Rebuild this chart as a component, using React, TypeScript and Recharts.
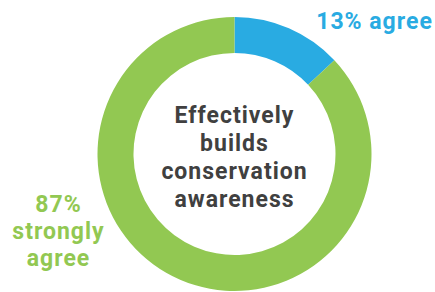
import React from "react";
import { PieChart, Pie, Cell } from "recharts";

const categories = ["agree", "strongly agree"];
const values = [13, 87];
const labelLines = [["13% agree"], ["87%", "strongly", "agree"]];
const centerLines = ["Effectively", "builds", "conservation", "awareness"];
const colors = ["#29ABE2", "#92C852"];

const data = categories.map((c, i) => ({ name: c, value: values[i] }));

const FONT = "Roboto, 'DejaVu Sans', sans-serif";
const TEXT_STYLE = { fontFamily: FONT, fontWeight: 700, fontSize: 23, letterSpacing: 1 };

const renderLabel = (props: any) => {
  const { cx, cy, index } = props;
  const lines = labelLines[index];
  if (index === 0) {
    return (
      <g>
        <text x={cx + 140} y={cy - 125} textAnchor="middle" fill={colors[0]} style={TEXT_STYLE}>
          {lines[0]}
        </text>
        <text x={cx} y={cy - 31} textAnchor="middle" fill="#404040" style={TEXT_STYLE}>
          {centerLines.map((l, i) => (
            <tspan key={i} x={cx} dy={i === 0 ? 0 : 28}>{l}</tspan>
          ))}
        </text>
      </g>
    );
  }
  return (
    <text x={cx - 176} y={cy + 58} textAnchor="middle" fill={colors[1]} style={TEXT_STYLE}>
      {lines.map((l, i) => (
        <tspan key={i} x={cx - 176} dy={i === 0 ? 0 : 27}>{l}</tspan>
      ))}
    </text>
  );
};

export default function App() {
  return (
    <div style={{ position: "absolute", left: 0, top: 0, width: 435, height: 292, background: "#fff" }}>
      <PieChart width={435} height={292} margin={{ top: 0, right: 0, bottom: 0, left: 0 }}>
        <Pie
          data={data}
          dataKey="value"
          nameKey="name"
          cx={234.5}
          cy={154}
          innerRadius={101}
          outerRadius={137}
          startAngle={90}
          endAngle={-270}
          stroke="none"
          isAnimationActive={false}
          label={renderLabel}
          labelLine={false}
        >
          {data.map((d, i) => (
            <Cell key={d.name} fill={colors[i]} />
          ))}
        </Pie>
      </PieChart>
    </div>
  );
}
